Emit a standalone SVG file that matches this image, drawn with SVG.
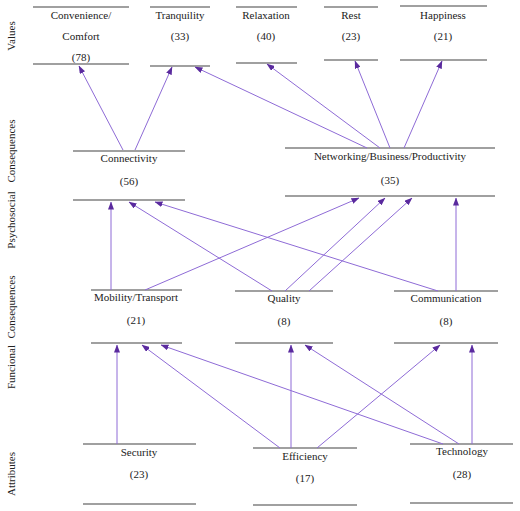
<svg xmlns="http://www.w3.org/2000/svg" width="520" height="511" viewBox="0 0 520 511">
<style>
text{font-family:"Liberation Serif","Times New Roman",serif;font-size:11px;fill:#222;text-anchor:middle}
.b line{stroke:#808080;stroke-width:1.5}
.c line{stroke:#8e6bd6;stroke-width:1;marker-end:url(#ah)}
</style>
<defs>
<marker id="ah" markerUnits="userSpaceOnUse" markerWidth="8" markerHeight="6" refX="7.5" refY="3" orient="auto">
<path d="M0,0 L8,3 L0,6 z" fill="#5a2a9e"/>
</marker>
</defs>
<rect width="520" height="511" fill="#fff"/>
<g id="side-labels">
<text transform="translate(15,36) rotate(-90)">Values</text>
<text transform="translate(15,151) rotate(-90)">Consequences</text>
<text transform="translate(15,220) rotate(-90)">Psychosocial</text>
<text transform="translate(15,307) rotate(-90)">Consequences</text>
<text transform="translate(15,367) rotate(-90)">Funcional</text>
<text transform="translate(15,474) rotate(-90)">Attributes</text>
</g>
<g id="convenience" class="b"><line x1="33" y1="7" x2="129" y2="7"/><line x1="33" y1="64" x2="129" y2="64"/><text x="81" y="19">Convenience/</text><text x="81" y="40">Comfort</text><text x="81" y="61">(78)</text></g>
<g id="tranquility" class="b"><line x1="150" y1="7" x2="210" y2="7"/><line x1="150" y1="66" x2="210" y2="66"/><text x="180" y="19">Tranquility</text><text x="180" y="40">(33)</text></g>
<g id="relaxation" class="b"><line x1="236" y1="7" x2="297" y2="7"/><line x1="236" y1="63" x2="297" y2="63"/><text x="266" y="19">Relaxation</text><text x="266" y="40">(40)</text></g>
<g id="rest" class="b"><line x1="324" y1="7" x2="378" y2="7"/><line x1="324" y1="60" x2="378" y2="60"/><text x="351" y="19">Rest</text><text x="351" y="40">(23)</text></g>
<g id="happiness" class="b"><line x1="400" y1="6" x2="487" y2="6"/><line x1="400" y1="60" x2="487" y2="60"/><text x="443" y="19">Happiness</text><text x="443" y="40">(21)</text></g>
<g id="connectivity" class="b"><line x1="73" y1="151" x2="185" y2="151"/><line x1="73" y1="200" x2="185" y2="200"/><text x="129" y="162">Connectivity</text><text x="129" y="185">(56)</text></g>
<g id="networking" class="b"><line x1="285" y1="148" x2="495" y2="148"/><line x1="285" y1="196" x2="495" y2="196"/><text x="390" y="160">Networking/Business/Productivity</text><text x="390" y="184">(35)</text></g>
<g id="mobility" class="b"><line x1="91" y1="290" x2="182" y2="290"/><line x1="91" y1="343" x2="182" y2="343"/><text x="136" y="301">Mobility/Transport</text><text x="136" y="324">(21)</text></g>
<g id="quality" class="b"><line x1="235" y1="291" x2="333" y2="291"/><line x1="235" y1="343" x2="333" y2="343"/><text x="284" y="302">Quality</text><text x="284" y="325">(8)</text></g>
<g id="communication" class="b"><line x1="394" y1="291" x2="498" y2="291"/><line x1="394" y1="343" x2="498" y2="343"/><text x="446" y="302">Communication</text><text x="446" y="325">(8)</text></g>
<g id="security" class="b"><line x1="83" y1="444" x2="196" y2="444"/><line x1="83" y1="504" x2="196" y2="504"/><text x="139" y="456">Security</text><text x="139" y="478">(23)</text></g>
<g id="efficiency" class="b"><line x1="253" y1="448" x2="357" y2="448"/><line x1="253" y1="505" x2="357" y2="505"/><text x="305" y="460">Efficiency</text><text x="305" y="482">(17)</text></g>
<g id="technology" class="b"><line x1="410" y1="444" x2="513" y2="444"/><line x1="410" y1="503" x2="513" y2="503"/><text x="462" y="455">Technology</text><text x="462" y="478">(28)</text></g>
<g id="connectors" class="c">
<line x1="123" y1="150" x2="79" y2="66"/>
<line x1="135" y1="150" x2="172" y2="67"/>
<line x1="367" y1="148" x2="195" y2="67"/>
<line x1="380" y1="148" x2="267" y2="64"/>
<line x1="390" y1="148" x2="355" y2="61"/>
<line x1="404" y1="148" x2="442" y2="61"/>
<line x1="111" y1="290" x2="111" y2="202"/>
<line x1="145" y1="290" x2="359" y2="198"/>
<line x1="272" y1="291" x2="129" y2="202"/>
<line x1="285" y1="291" x2="385" y2="198"/>
<line x1="309" y1="291" x2="412" y2="198"/>
<line x1="438" y1="291" x2="155" y2="202"/>
<line x1="456" y1="291" x2="456" y2="198"/>
<line x1="117" y1="444" x2="117" y2="345"/>
<line x1="280" y1="448" x2="142" y2="345"/>
<line x1="291" y1="448" x2="291" y2="345"/>
<line x1="317" y1="448" x2="440" y2="345"/>
<line x1="443" y1="444" x2="161" y2="345"/>
<line x1="459" y1="444" x2="305" y2="345"/>
<line x1="472" y1="444" x2="472" y2="345"/>
</g>
</svg>
